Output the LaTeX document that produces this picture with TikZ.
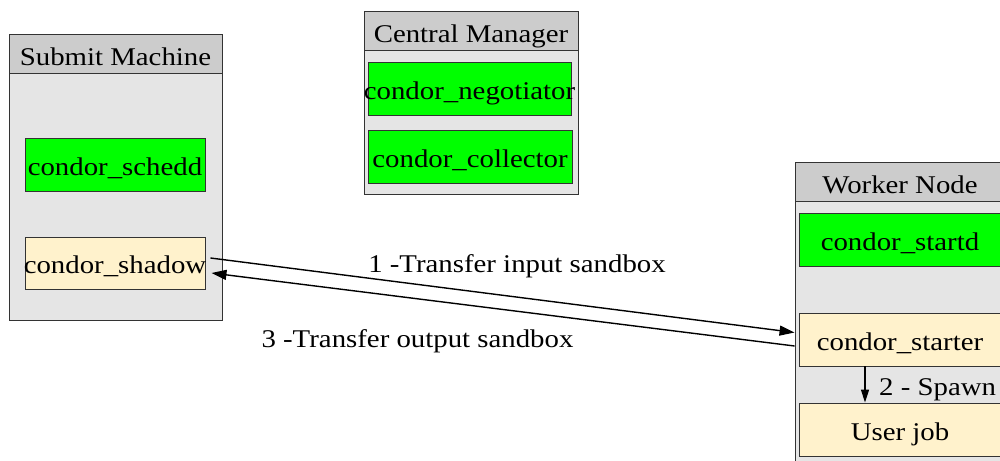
\documentclass[tikz,border=0pt]{standalone}
\usepackage{fontspec}
\setmainfont{Liberation Serif}[FakeStretch=1.13]
\usetikzlibrary{arrows.meta}
\definecolor{hdrgray}{HTML}{CCCCCC}
\definecolor{bodygray}{HTML}{E5E5E5}
\definecolor{procgreen}{HTML}{00FF00}
\definecolor{proccream}{HTML}{FFF2CC}
\definecolor{edgegray}{HTML}{333333}
\newcommand{\ztext}[1]{\makebox[0pt][c]{#1}}
\tikzset{
  container/.style={draw=edgegray, line width=0.9pt, fill=bodygray, inner sep=0pt},
  header/.style={draw=edgegray, line width=0.9pt, fill=hdrgray, inner sep=0pt,
    font=\fontsize{25.5}{30}\selectfont, text height=26pt, text depth=2pt},
  proc/.style={draw=edgegray, line width=0.9pt, inner sep=0pt,
    font=\fontsize{25.5}{30}\selectfont, text height=24pt, text depth=3pt},
  daemon/.style={proc, fill=procgreen},
  helper/.style={proc, fill=proccream},
  flow/.style={line width=1.4pt, -{Triangle[length=15pt,width=10pt]}},
  lbl/.style={font=\fontsize{25.5}{30}\selectfont, inner sep=0pt}
}
\begin{document}
\begin{tikzpicture}[x=1pt,y=-1pt]
\useasboundingbox (0,0) rectangle (1000,460);
% Submit machine
\node[container, minimum width=213pt, minimum height=286pt] (submit) at (115.5,177) {};
\node[header, minimum width=213pt, minimum height=39pt] (submithdr) at (115.5,53.5) {\ztext{Submit Machine}};
\node[daemon, minimum width=180pt, minimum height=53pt] (schedd) at (115,164.5) {\ztext{condor\_schedd}};
\node[helper, minimum width=180pt, minimum height=52pt] (shadow) at (115,263) {\ztext{condor\_shadow}};
% Central manager
\node[container, minimum width=214pt, minimum height=183pt] (cm) at (471,102.5) {};
\node[header, minimum width=214pt, minimum height=39pt] (cmhdr) at (471,30.5) {\ztext{Central Manager}};
\node[daemon, minimum width=203pt, minimum height=53pt] (negotiator) at (469.5,88.5) {\ztext{condor\_negotiator}};
\node[daemon, minimum width=204pt, minimum height=53pt] (collector) at (470,156.5) {\ztext{condor\_collector}};
% Worker node
\node[container, minimum width=210pt, minimum height=308pt] (worker) at (900,316) {};
\node[header, minimum width=210pt, minimum height=39pt] (workerhdr) at (900,181.5) {\ztext{Worker Node}};
\node[daemon, minimum width=202pt, minimum height=53pt] (startd) at (900,239.5) {\ztext{condor\_startd}};
\node[helper, minimum width=202pt, minimum height=53pt] (starter) at (900,339.5) {\ztext{condor\_starter}};
\node[helper, minimum width=202pt, minimum height=53pt] (userjob) at (900,429.5) {\ztext{User job}};
% Connectors
\draw[flow] ([xshift=5pt,yshift=5pt]shadow.east) -- ([xshift=-4pt,yshift=7pt]starter.west);
\draw[flow] ([xshift=-4pt,yshift=-6.5pt]starter.west) -- ([xshift=6pt,yshift=-10pt]shadow.east);
\draw[line width=1.4pt, -{Triangle[length=13pt,width=8pt]}] ([xshift=-35pt]starter.south) -- ([xshift=-35pt]userjob.north);
% Labels
\node[lbl, anchor=base] (l1) at (517,272) {1 -Transfer input sandbox};
\node[lbl, anchor=base] (l3) at (417.5,347) {3 -Transfer output sandbox};
\node[lbl, anchor=base west] (l2) at (879,395) {2 - Spawn};
\end{tikzpicture}
\end{document}
